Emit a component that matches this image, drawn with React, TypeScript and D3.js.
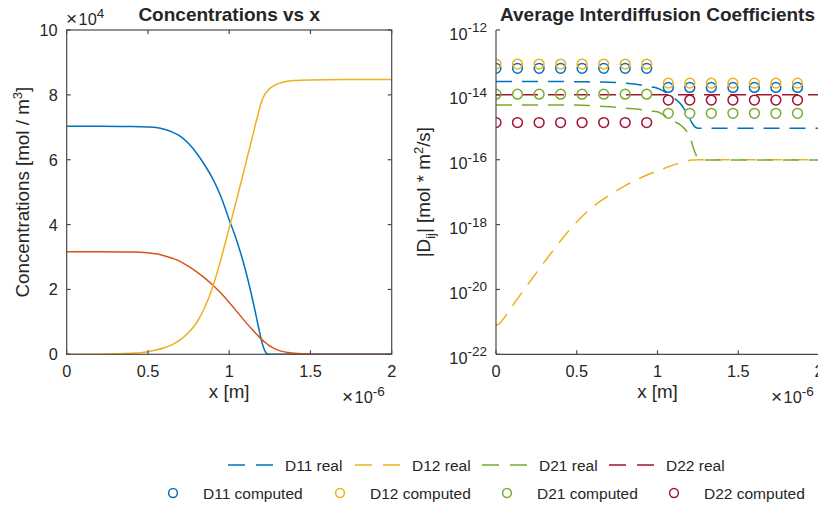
import React from "react";
import * as d3 from "d3";

// ---------- Data ----------
// Left plot: concentrations (x in 1e-6 m, values in 1e4 mol/m^3)
const concX = [0, 0.2, 0.4, 0.5, 0.55, 0.6, 0.65, 0.7, 0.75, 0.8, 0.85, 0.9, 0.95, 1.0, 1.05, 1.1, 1.15, 1.18, 1.2, 1.22, 1.24, 1.27, 1.3, 1.35, 1.4, 1.5, 1.7, 2.0];
const conc1 = [7.03, 7.03, 7.025, 7.01, 6.99, 6.94, 6.85, 6.72, 6.5, 6.2, 5.83, 5.4, 4.85, 4.15, 3.45, 2.6, 1.55, 0.85, 0.4, 0.1, 0, 0, 0, 0, 0, 0, 0, 0];
const conc2 = [3.16, 3.16, 3.155, 3.13, 3.1, 3.04, 2.96, 2.86, 2.71, 2.54, 2.35, 2.13, 1.88, 1.6, 1.3, 1.0, 0.72, 0.56, 0.46, 0.37, 0.29, 0.2, 0.13, 0.065, 0.03, 0.006, 0, 0];
const conc3 = [0, 0.003, 0.03, 0.08, 0.13, 0.2, 0.3, 0.45, 0.67, 0.98, 1.45, 2.1, 2.95, 3.9, 4.85, 5.85, 6.85, 7.45, 7.8, 8.02, 8.15, 8.27, 8.34, 8.41, 8.44, 8.46, 8.47, 8.47];

// Right plot: "real" interdiffusion coefficients
const realX = [0, 0.02, 0.05, 0.1, 0.2, 0.3, 0.4, 0.5, 0.6, 0.7, 0.8, 0.9, 0.95, 1.0, 1.05, 1.1, 1.15, 1.2, 1.23, 1.25, 1.27, 1.3, 1.5, 2.0];
const d11Real = [2.57e-14, 2.57e-14, 2.57e-14, 2.57e-14, 2.57e-14, 2.57e-14, 2.57e-14, 2.55e-14, 2.5e-14, 2.45e-14, 2.3e-14, 2.0e-14, 1.8e-14, 1.6e-14, 1.2e-14, 8e-15, 4.8e-15, 1.8e-15, 1.05e-15, 9.4e-16, 9.3e-16, 9.3e-16, 9.3e-16, 9.3e-16];
const d12Real = [7.94e-22, 8.7e-22, 1.32e-21, 3.02e-21, 1.48e-20, 7.08e-20, 3.16e-19, 1.2e-18, 3.55e-18, 7.94e-18, 1.58e-17, 2.82e-17, 3.63e-17, 4.57e-17, 5.62e-17, 6.92e-17, 8.32e-17, 9.55e-17, 9.8e-17, 1.0e-16, 1.0e-16, 1.0e-16, 1.0e-16, 1.0e-16];
const d21Real = [4.9e-15, 4.9e-15, 4.9e-15, 4.9e-15, 4.9e-15, 4.9e-15, 4.9e-15, 4.85e-15, 4.6e-15, 4.3e-15, 3.9e-15, 3.5e-15, 3.2e-15, 3.0e-15, 2.2e-15, 1.55e-15, 1.1e-15, 5e-16, 1.8e-16, 1.1e-16, 9.8e-17, 9.8e-17, 9.8e-17, 9.8e-17];
const d22Real = [1e-14, 1e-14, 1e-14, 1e-14, 1e-14, 1e-14, 1e-14, 1e-14, 1e-14, 1e-14, 1e-14, 1e-14, 1e-14, 1e-14, 1e-14, 1e-14, 1e-14, 1e-14, 1e-14, 1e-14, 1e-14, 1e-14, 1e-14, 1e-14];

// Right plot: "computed" coefficients
const compX = [0, 0.133, 0.267, 0.4, 0.533, 0.667, 0.8, 0.933, 1.067, 1.2, 1.333, 1.467, 1.6, 1.733, 1.867];
const d11Comp = [6.6e-14, 6.6e-14, 6.6e-14, 6.6e-14, 6.6e-14, 6.6e-14, 6.6e-14, 6.6e-14, 1.7e-14, 1.7e-14, 1.7e-14, 1.7e-14, 1.7e-14, 1.7e-14, 1.7e-14];
const d12Comp = [8.9e-14, 8.9e-14, 8.9e-14, 8.9e-14, 8.9e-14, 8.9e-14, 8.9e-14, 8.9e-14, 2.3e-14, 2.3e-14, 2.3e-14, 2.3e-14, 2.3e-14, 2.3e-14, 2.3e-14];
const d21Comp = [1.05e-14, 1.05e-14, 1.05e-14, 1.05e-14, 1.05e-14, 1.05e-14, 1.05e-14, 1.05e-14, 2.7e-15, 2.7e-15, 2.7e-15, 2.7e-15, 2.7e-15, 2.7e-15, 2.7e-15];
const d22Comp = [1.4e-15, 1.4e-15, 1.4e-15, 1.4e-15, 1.4e-15, 1.4e-15, 1.4e-15, 1.4e-15, 6.9e-15, 6.9e-15, 6.9e-15, 6.9e-15, 6.9e-15, 6.9e-15, 6.9e-15];

const xTicks = [0, 0.5, 1, 1.5, 2];
const xTickLabels = ["0", "0.5", "1", "1.5", "2"];
const concTicks = [0, 2, 4, 6, 8, 10];
const logTickExps = [-22, -20, -18, -16, -14, -12];

const realNames = ["D11 real", "D12 real", "D21 real", "D22 real"];
const compNames = ["D11 computed", "D12 computed", "D21 computed", "D22 computed"];

// ---------- Style ----------
const BLUE = "#0072BD";
const ORANGE = "#D95319";
const YELLOW = "#EDB120";
const GREEN = "#77AC30";
const RED = "#A2142F";
const TXT = "#262626";
const AX = "#4a4a4a";
const FONT = "'Liberation Sans', Arial, Helvetica, sans-serif";
const TICK_FS = 16.3;
const SUP_FS = 13.5;
const LABEL_FS = 18.8;
const TITLE_FS = 19;
const LEG_FS = 15.5;

export default function App() {
  // Left axes
  const xC = d3.scaleLinear().domain([0, 2]).range([66.7, 391.7]);
  const yC = d3.scaleLinear().domain([0, 10]).range([354.3, 30]);
  // Right axes
  const xD = d3.scaleLinear().domain([0, 2]).range([496, 819]);
  const yD = d3.scaleLog().domain([1e-22, 1e-12]).range([354.3, 30]);

  const concLine = (vals: number[]) =>
    d3
      .line<number>()
      .x((_, i) => xC(concX[i]))
      .y((v) => yC(v))
      .curve(d3.curveMonotoneX)(vals) as string;

  const realLine = (vals: number[]) =>
    d3
      .line<number>()
      .x((_, i) => xD(realX[i]))
      .y((v) => yD(v))
      .curve(d3.curveMonotoneX)(vals) as string;

  const tickLen = 4;
  const [cx0, cx1] = xC.range();
  const [cy0, cy1] = yC.range();
  const [dx0] = xD.range();
  const [dy0, dy1] = yD.range();

  const realSeries = [
    { vals: d11Real, color: BLUE },
    { vals: d12Real, color: YELLOW },
    { vals: d21Real, color: GREEN },
    { vals: d22Real, color: RED },
  ];
  const compSeries = [
    { vals: d11Comp, color: BLUE },
    { vals: d12Comp, color: YELLOW },
    { vals: d21Comp, color: GREEN },
    { vals: d22Comp, color: RED },
  ];
  const dash = "16 10";

  // Legend layout
  const leg1X = [228, 355, 482, 609];
  const leg1Y = 465;
  const leg2X = [173, 340, 507, 674];
  const leg2Y = 493;

  const times = (x: number, y: number, exp: string) => (
    <text x={x} y={y} fontSize={TICK_FS} fill={TXT}>
      <tspan fontSize={19}>×</tspan>
      <tspan dx={1.5}>10</tspan>
      <tspan fontSize={SUP_FS} dy={-7}>{exp}</tspan>
    </text>
  );

  return (
    <svg
      width={818}
      height={506}
      style={{ position: "absolute", left: 0, top: 0, background: "#fff" }}
      fontFamily={FONT}
    >
      <defs>
        <clipPath id="clipR">
          <rect x={dx0} y={dy1} width={818 - dx0} height={dy0 - dy1} />
        </clipPath>
        <clipPath id="clipL">
          <rect x={cx0} y={cy1} width={cx1 - cx0} height={cy0 - cy1} />
        </clipPath>
      </defs>
      <rect x={0} y={0} width={818} height={506} fill="#fff" />

      {/* ---------- Left plot ---------- */}
      <g clipPath="url(#clipL)">
        <path d={concLine(conc1)} fill="none" stroke={BLUE} strokeWidth={1.5} />
        <path d={concLine(conc2)} fill="none" stroke={ORANGE} strokeWidth={1.5} />
        <path d={concLine(conc3)} fill="none" stroke={YELLOW} strokeWidth={1.5} />
      </g>
      <rect x={cx0} y={cy1} width={cx1 - cx0} height={cy0 - cy1} fill="none" stroke={AX} strokeWidth={1.2} />
      {xTicks.map((t, i) => (
        <g key={"cxt" + i}>
          <line x1={xC(t)} x2={xC(t)} y1={cy0} y2={cy0 - tickLen} stroke={AX} strokeWidth={1.2} />
          <line x1={xC(t)} x2={xC(t)} y1={cy1} y2={cy1 + tickLen} stroke={AX} strokeWidth={1.2} />
          <text x={xC(t)} y={cy0 + 23} textAnchor="middle" fontSize={TICK_FS} fill={TXT}>
            {xTickLabels[i]}
          </text>
        </g>
      ))}
      {concTicks.map((t, i) => (
        <g key={"cyt" + i}>
          <line x1={cx0} x2={cx0 + tickLen} y1={yC(t)} y2={yC(t)} stroke={AX} strokeWidth={1.2} />
          <line x1={cx1} x2={cx1 - tickLen} y1={yC(t)} y2={yC(t)} stroke={AX} strokeWidth={1.2} />
          <text x={cx0 - 9} y={yC(t) + 6} textAnchor="end" fontSize={TICK_FS} fill={TXT}>
            {String(t)}
          </text>
        </g>
      ))}
      {times(66, 25, "4")}
      {times(342, 403, "-6")}
      <text x={(cx0 + cx1) / 2} y={398} textAnchor="middle" fontSize={LABEL_FS} fill={TXT}>
        x [m]
      </text>
      <text
        transform={`translate(29,${(cy0 + cy1) / 2}) rotate(-90)`}
        textAnchor="middle"
        fontSize={LABEL_FS}
        fill={TXT}
      >
        Concentrations [mol / m<tspan fontSize={13} dy={-7}>3</tspan>
        <tspan dy={7}>]</tspan>
      </text>
      <text x={(cx0 + cx1) / 2} y={21} textAnchor="middle" fontSize={TITLE_FS} fontWeight="bold" fill={TXT}>
        Concentrations vs x
      </text>

      {/* ---------- Right plot ---------- */}
      <g clipPath="url(#clipR)">
        {realSeries.map((s, i) => (
          <path
            key={"rl" + i}
            d={realLine(s.vals)}
            fill="none"
            stroke={s.color}
            strokeWidth={1.5}
            strokeDasharray={dash}
          />
        ))}
        {compSeries.map((s, i) => (
          <g key={"cs" + i}>
            {s.vals.map((v, j) => (
              <circle
                key={j}
                cx={xD(compX[j])}
                cy={yD(v)}
                r={4.9}
                fill="none"
                stroke={s.color}
                strokeWidth={1.5}
              />
            ))}
          </g>
        ))}
      </g>
      <line x1={dx0} x2={dx0} y1={dy1} y2={dy0} stroke={AX} strokeWidth={1.2} />
      <line x1={dx0} x2={818} y1={dy0} y2={dy0} stroke={AX} strokeWidth={1.2} />
      {xTicks.map((t, i) => (
        <g key={"dxt" + i}>
          <line x1={xD(t)} x2={xD(t)} y1={dy0} y2={dy0 - tickLen} stroke={AX} strokeWidth={1.2} />
          <text x={xD(t)} y={dy0 + 23} textAnchor="middle" fontSize={TICK_FS} fill={TXT}>
            {xTickLabels[i]}
          </text>
        </g>
      ))}
      {logTickExps.map((e, i) => (
        <g key={"dyt" + i}>
          <line
            x1={dx0}
            x2={dx0 + tickLen}
            y1={yD(Math.pow(10, e))}
            y2={yD(Math.pow(10, e))}
            stroke={AX}
            strokeWidth={1.2}
          />
          <text x={dx0 - 9} y={yD(Math.pow(10, e)) + 9.5} textAnchor="end" fontSize={TICK_FS} fill={TXT}>
            10<tspan fontSize={SUP_FS} dy={-7.5}>{String(e)}</tspan>
          </text>
        </g>
      ))}
      {times(771, 403, "-6")}
      <text x={(dx0 + 819) / 2} y={398} textAnchor="middle" fontSize={LABEL_FS} fill={TXT}>
        x [m]
      </text>
      <text
        transform={`translate(430,${(dy0 + dy1) / 2}) rotate(-90)`}
        textAnchor="middle"
        fontSize={LABEL_FS}
        fill={TXT}
      >
        |D<tspan fontSize={13} dy={5}>ij</tspan>
        <tspan dy={-5}>| [mol * m</tspan>
        <tspan fontSize={13} dy={-7}>2</tspan>
        <tspan dy={7}>/s]</tspan>
      </text>
      <text x={657.5} y={21} textAnchor="middle" fontSize={TITLE_FS} fontWeight="bold" fill={TXT}>
        Average Interdiffusion Coefficients
      </text>

      {/* ---------- Legend ---------- */}
      {realNames.map((n, i) => (
        <g key={"lg1" + i}>
          <line
            x1={leg1X[i]}
            x2={leg1X[i] + 45}
            y1={leg1Y}
            y2={leg1Y}
            stroke={realSeries[i].color}
            strokeWidth={1.5}
            strokeDasharray="17 11"
          />
          <text x={leg1X[i] + 57} y={leg1Y + 5.5} fontSize={LEG_FS} fill={TXT}>
            {n}
          </text>
        </g>
      ))}
      {compNames.map((n, i) => (
        <g key={"lg2" + i}>
          <circle cx={leg2X[i]} cy={leg2Y} r={4.4} fill="none" stroke={compSeries[i].color} strokeWidth={1.5} />
          <text x={leg2X[i] + 30} y={leg2Y + 5.5} fontSize={LEG_FS} fill={TXT}>
            {n}
          </text>
        </g>
      ))}
    </svg>
  );
}
